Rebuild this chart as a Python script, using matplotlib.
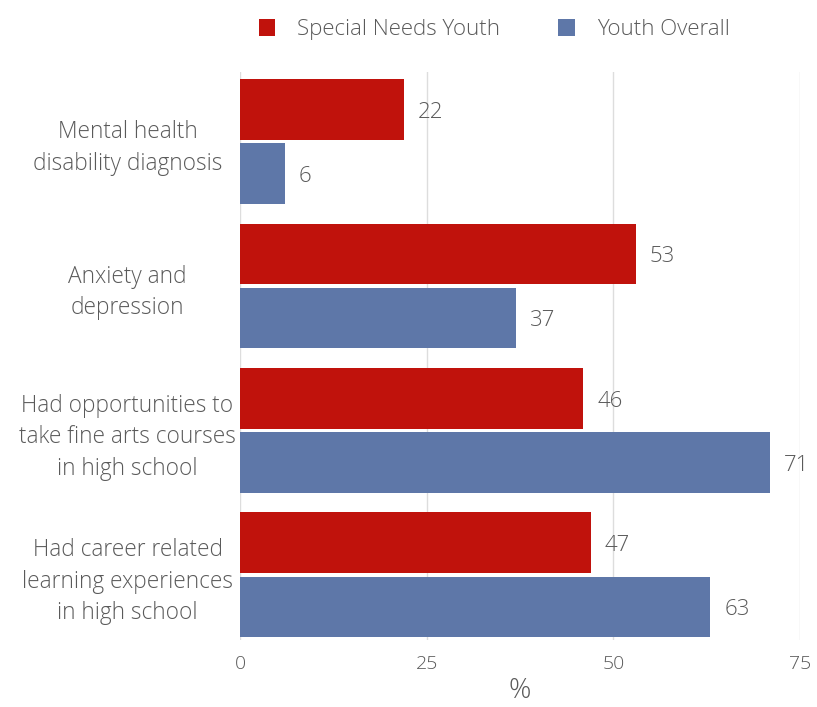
import matplotlib.pyplot as plt
import numpy as np

categories = [
    "Mental health\ndisability diagnosis",
    "Anxiety and\ndepression",
    "Had opportunities to\ntake fine arts courses\nin high school",
    "Had career related\nlearning experiences\nin high school",
]
special_needs = [22, 53, 46, 47]
youth_overall = [6, 37, 71, 63]
series_names = ["Special Needs Youth", "Youth Overall"]
x_ticks = [0, 25, 50, 75]

RED = "#C0120C"
BLUE = "#5E77A8"
GRAY = "#5a5a5a"

plt.rcParams['font.family'] = ['Open Sans', 'DejaVu Sans']

fig = plt.figure(figsize=(8.17, 7.07), dpi=100)
ax = fig.add_axes([0.2938, 0.095, 0.6854, 0.803])

y = np.arange(len(categories))
h = 0.42
b1 = ax.barh(y - 0.222, special_needs, height=h, color=RED, label=series_names[0], zorder=2)
b2 = ax.barh(y + 0.222, youth_overall, height=h, color=BLUE, label=series_names[1], zorder=2)

# value labels to the right of each bar
for bars, vals in [(b1, special_needs), (b2, youth_overall)]:
    for bar, v in zip(bars, vals):
        ax.annotate(str(v), (bar.get_width(), bar.get_y() + bar.get_height() / 2),
                    xytext=(10, -2), textcoords="offset points", va="center",
                    fontsize=16, color=GRAY, fontweight="light")

ax.set_xlim(0, 75)
ax.set_ylim(3.45, -0.48)
ax.set_xticks(x_ticks)
ax.set_xticklabels([str(t) for t in x_ticks], fontsize=14, color=GRAY, fontweight="light")
ax.set_yticks(y)
ax.set_yticklabels(categories, fontsize=16.3, color=GRAY, ha="center", fontweight="light",
                   linespacing=1.42)
ax.tick_params(axis="y", length=0, pad=81)
ax.tick_params(axis="x", length=0, pad=11)
ax.xaxis.grid(True, color="#dddddd", linewidth=1, zorder=0)
ax.set_axisbelow(True)
for s in ax.spines.values():
    s.set_visible(False)
ax.set_xlabel("%", fontsize=20, color=GRAY, fontweight="light", labelpad=3)

leg = fig.legend(handles=[b1, b2], labels=series_names, loc="center",
                 bbox_to_anchor=(0.605, 0.958), ncol=2, frameon=False,
                 fontsize=16, handlelength=0.75, handleheight=0.75, columnspacing=2.6,
                 handletextpad=1.0, labelcolor=GRAY)
for t in leg.get_texts():
    t.set_fontweight("light")

fig.savefig("out.png", dpi=100)
